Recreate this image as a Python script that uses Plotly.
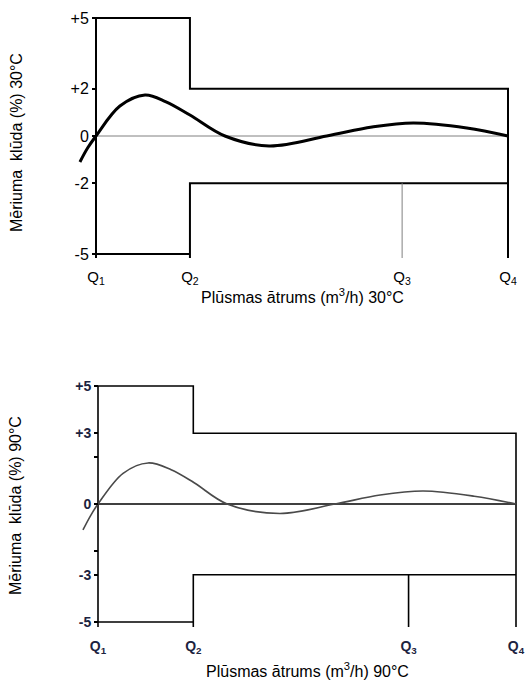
import plotly.graph_objects as go

# ---------------- data ----------------
q_labels = ["Q<sub>1</sub>", "Q<sub>2</sub>", "Q<sub>3</sub>", "Q<sub>4</sub>"]
q_pos = [0, 22.8, 74.3, 100]          # relative flow positions of Q1..Q4

# Chart 1 (30 °C)
y_ticks_1 = [5, 2, 0, -2, -5]
y_ticktext_1 = ["+5", "+2", "0", "-2", "-5"]
upper_1 = [5, 2]        # MPE upper limit (Q1-Q2, Q2-Q4)
lower_1 = [-5, -2]      # MPE lower limit
curve_x_1 = [-3.9, -2.0, 0, 5.8, 11.9, 17.0, 22.8, 31.3, 42.0, 56.0, 67.0, 77.0, 90.0, 100]
curve_y_1 = [-1.1, -0.5, 0, 1.27, 1.74, 1.45, 0.89, 0.0, -0.42, 0.0, 0.38, 0.55, 0.34, 0.0]

# Chart 2 (90 °C)
y_ticks_2 = [5, 3, 2, 0, -2, -3, -5]
y_ticktext_2 = ["+5", "+3", "", "0", "", "-3", "-5"]
upper_2 = [5, 3]
lower_2 = [-5, -3]
curve_x_2 = [-3.6, -1.8, 0, 6.0, 12.0, 17.5, 23.0, 30.9, 43.5, 56.7, 67.5, 77.8, 90.0, 100]
curve_y_2 = [-1.1, -0.5, 0, 1.3, 1.74, 1.45, 0.9, 0.0, -0.4, 0.0, 0.38, 0.55, 0.33, 0.0]

FONT = "Liberation Sans, Arial, sans-serif"
W, H = 527, 680

fig = go.Figure()

def add_chart(xa, ya, upper, lower, cx, cy, box_w, curve_w, curve_col, zero_col, zero_w,
              q3_col, q3_w, ext):
    q1, q2, q3, q4 = q_pos
    fig.add_trace(go.Scatter(x=[q1, q1], y=[upper[0], ext], mode="lines",
                             line=dict(color="black", width=box_w), xaxis=xa, yaxis=ya,
                             hoverinfo="skip", showlegend=False))
    fig.add_trace(go.Scatter(x=[q1, q2, q2, q4, q4], y=[upper[0], upper[0], upper[1], upper[1], ext],
                             mode="lines", line=dict(color="black", width=box_w),
                             xaxis=xa, yaxis=ya, hoverinfo="skip", showlegend=False))
    fig.add_trace(go.Scatter(x=[q1, q2, q2, q2, q4], y=[lower[0], lower[0], ext, lower[1], lower[1]],
                             mode="lines", line=dict(color="black", width=box_w),
                             xaxis=xa, yaxis=ya, hoverinfo="skip", showlegend=False))
    fig.add_trace(go.Scatter(x=[q1, q4], y=[0, 0], mode="lines",
                             line=dict(color=zero_col, width=zero_w),
                             xaxis=xa, yaxis=ya, hoverinfo="skip", showlegend=False))
    fig.add_trace(go.Scatter(x=[q3, q3], y=[lower[1], ext], mode="lines",
                             line=dict(color=q3_col, width=q3_w),
                             xaxis=xa, yaxis=ya, hoverinfo="skip", showlegend=False))
    fig.add_trace(go.Scatter(x=cx, y=cy, mode="lines",
                             line=dict(color=curve_col, width=curve_w, shape="spline", smoothing=1.0),
                             xaxis=xa, yaxis=ya, hoverinfo="skip", showlegend=False))

add_chart("x", "y", upper_1, lower_1, curve_x_1, curve_y_1, 2, 3, "black", "#808080", 1,
          "#808080", 1, -5.17)
add_chart("x2", "y2", upper_2, lower_2, curve_x_2, curve_y_2, 1.6, 1.6, "#4a4a4a", "black", 1.6,
          "black", 1.6, -5.21)

YR = 5.35
def dom(p5, m5):
    ppu = (m5 - p5) / 10.0
    top = p5 - (YR - 5) * ppu
    bot = m5 + (YR - 5) * ppu
    return [1 - bot / H, 1 - top / H]

def xr(q1px, q4px):
    ppu = (q4px - q1px) / 100.0
    return [-q1px / ppu, (W - q1px) / ppu]

fig.update_layout(
    width=W, height=H,
    margin=dict(l=0, r=0, t=0, b=0),
    paper_bgcolor="white", plot_bgcolor="rgba(0,0,0,0)",
    font=dict(family=FONT, color="black"),
    xaxis=dict(domain=[0, 1], range=xr(96, 508), anchor="y", showgrid=False, zeroline=False,
               showline=False, ticks="", tickvals=q_pos, ticktext=q_labels, ticklabelstandoff=4,
               tickfont=dict(size=15, family=FONT, color="black")),
    yaxis=dict(domain=dom(18, 254), range=[-YR, YR], anchor="free", position=96 / W,
               showgrid=False, zeroline=False, showline=False, ticks="outside", ticklen=4,
               tickwidth=1.5, tickcolor="black", tickvals=y_ticks_1, ticktext=y_ticktext_1,
               tickfont=dict(size=16, family=FONT, color="black")),
    xaxis2=dict(domain=[0, 1], range=xr(98, 516), anchor="y2", showgrid=False, zeroline=False,
                showline=False, ticks="", tickvals=q_pos, ticklabelstandoff=6,
                ticktext=["<b>" + t + "</b>" for t in q_labels],
                tickfont=dict(size=14, family=FONT, color="#1c2340")),
    yaxis2=dict(domain=dom(386, 622), range=[-YR, YR], anchor="free", position=98 / W,
                showgrid=False, zeroline=False, showline=False, ticks="outside", ticklen=4,
                tickwidth=1.5, tickcolor="black", tickvals=y_ticks_2,
                ticktext=["<b>" + t + "</b>" if t else "" for t in y_ticktext_2],
                tickfont=dict(size=14, family=FONT, color="#1c2340")),
)

fig.add_annotation(text="Plūsmas ātrums (m<sup>3</sup>/h) 30°C", xref="x", x=50,
                   yref="paper", y=1 - 296 / H, showarrow=False, xanchor="center",
                   yanchor="middle", font=dict(size=16, family=FONT, color="black"))
fig.add_annotation(text="Mēriuma  klūda (%) 30°C", xref="paper", x=16 / W,
                   yref="paper", y=1 - 143 / H, showarrow=False, textangle=-90,
                   xanchor="center", yanchor="middle", font=dict(size=16, family=FONT, color="black"))
fig.add_annotation(text="Plūsmas ātrums (m<sup>3</sup>/h) 90°C", xref="x2", x=50,
                   yref="paper", y=1 - 670 / H, showarrow=False, xanchor="center",
                   yanchor="middle", font=dict(size=16, family=FONT, color="black"))
fig.add_annotation(text="Mēriuma  klūda (%) 90°C", xref="paper", x=15 / W,
                   yref="paper", y=1 - 506 / H, showarrow=False, textangle=-90,
                   xanchor="center", yanchor="middle", font=dict(size=16, family=FONT, color="black"))

fig.write_html("out.html", config={"displayModeBar": False},
               post_script="document.body.style.margin='0px';document.body.style.overflow='hidden';")
